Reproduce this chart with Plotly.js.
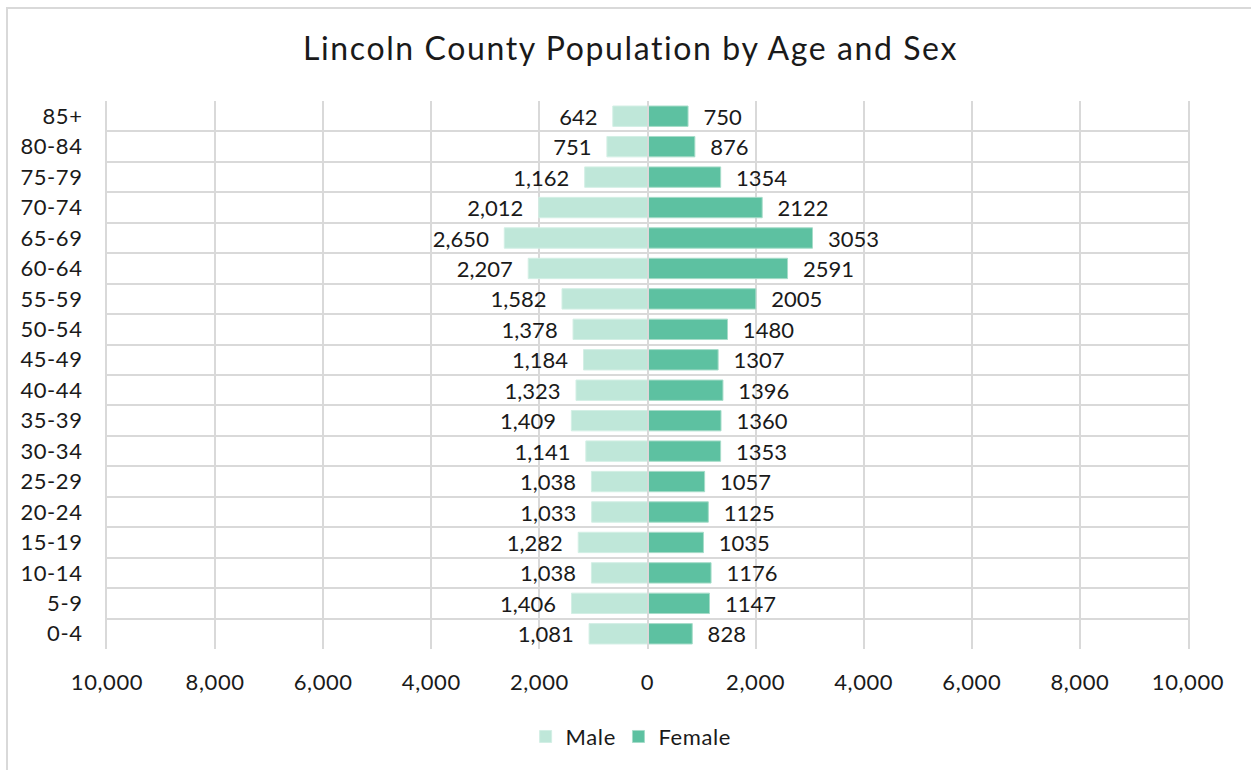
<!DOCTYPE html>
<html>
<head>
<meta charset="utf-8">
<script src="https://cdn.plot.ly/plotly-3.0.1.min.js"></script>
<style>
  html, body { margin: 0; padding: 0; background: #fff; }
  #chart { width: 1251px; height: 770px; }
  #frame { position: absolute; left: 6px; top: 7px; width: 1260px; height: 780px;
           border: 2px solid #d9d9d9; pointer-events: none; box-sizing: border-box; }
  #chart .gtitle { letter-spacing: 1.6px; }
  #chart .xtick text, #chart .ytick text, #chart .legendtext, #chart .bartext text { letter-spacing: 0.6px; }
</style>
</head>
<body>
<div id="chart"></div>
<div id="frame"></div>
<script>
const categories = ["0-4","5-9","10-14","15-19","20-24","25-29","30-34","35-39","40-44","45-49","50-54","55-59","60-64","65-69","70-74","75-79","80-84","85+"];
const male   = [1081,1406,1038,1282,1033,1038,1141,1409,1323,1184,1378,1582,2207,2650,2012,1162,751,642];
const female = [828,1147,1176,1035,1125,1057,1353,1360,1396,1307,1480,2005,2591,3053,2122,1354,876,750];
const xTicks = [-10000,-8000,-6000,-4000,-2000,0,2000,4000,6000,8000,10000];

const FONT = "Lato, 'DejaVu Sans', sans-serif";
const pos = categories.map((_, i) => i);
const PAD = '\u2002\u200A';

const traces = [
  {
    type: 'bar', orientation: 'h', name: 'Male',
    y: pos, x: male.map(v => -v),
    text: male.map(v => v.toLocaleString('en-US') + PAD),
    textposition: 'outside', cliponaxis: false, constraintext: 'none',
    textfont: {family: FONT, size: 22, color: '#1a1a1a'},
    marker: {color: '#bfe7d9', line: {color: '#d3efe5', width: 1}},
    hoverinfo: 'skip'
  },
  {
    type: 'bar', orientation: 'h', name: 'Female',
    y: pos, x: female,
    text: female.map(v => PAD + String(v)),
    textposition: 'outside', cliponaxis: false, constraintext: 'none',
    textfont: {family: FONT, size: 22, color: '#1a1a1a'},
    marker: {color: '#5dc1a1', line: {color: '#a6dcc9', width: 1}},
    hoverinfo: 'skip'
  }
];

const layout = {
  width: 1251, height: 770,
  margin: {l: 107, r: 63, t: 101, b: 117},
  paper_bgcolor: '#fff', plot_bgcolor: '#fff',
  font: {family: FONT, color: '#1a1a1a'},
  title: {text: 'Lincoln County Population by Age and Sex', x: 0.504, xanchor: 'center', y: 0.937, yanchor: 'middle',
          font: {family: FONT, size: 32, color: '#1a1a1a'}},
  barmode: 'overlay', bargap: 0.33,
  xaxis: {
    range: [-10000, 10000], tickmode: 'array', tickvals: xTicks,
    ticktext: xTicks.map(v => Math.abs(v).toLocaleString('en-US')),
    showgrid: true, gridcolor: '#d9d9d9', gridwidth: 2,
    zeroline: true, zerolinecolor: '#d9d9d9', zerolinewidth: 2, zerolinelayer: 'above traces',
    showline: false, ticks: '', ticklabelstandoff: 18,
    tickfont: {family: FONT, size: 22, color: '#1a1a1a'}, fixedrange: true
  },
  yaxis: {
    range: [-0.5, categories.length - 0.5], tickmode: 'array', tickvals: pos, ticktext: categories,
    showgrid: false, zeroline: false, ticks: '', ticklabelstandoff: 18,
    showline: true, mirror: true, linecolor: '#d9d9d9', linewidth: 2,
    minor: {tickmode: 'linear', tick0: 0.5, dtick: 1, showgrid: true, gridcolor: '#d9d9d9', gridwidth: 2, ticks: ''},
    tickfont: {family: FONT, size: 22, color: '#1a1a1a'}, fixedrange: true
  },
  showlegend: true,
  legend: {orientation: 'h', x: 0.483, xanchor: 'center', y: -0.16, yanchor: 'middle',
           font: {family: FONT, size: 22, color: '#1a1a1a'}, itemwidth: 30, traceorder: 'normal'}
};

Plotly.newPlot('chart', traces, layout, {displayModeBar: false, staticPlot: true});
</script>
</body>
</html>
